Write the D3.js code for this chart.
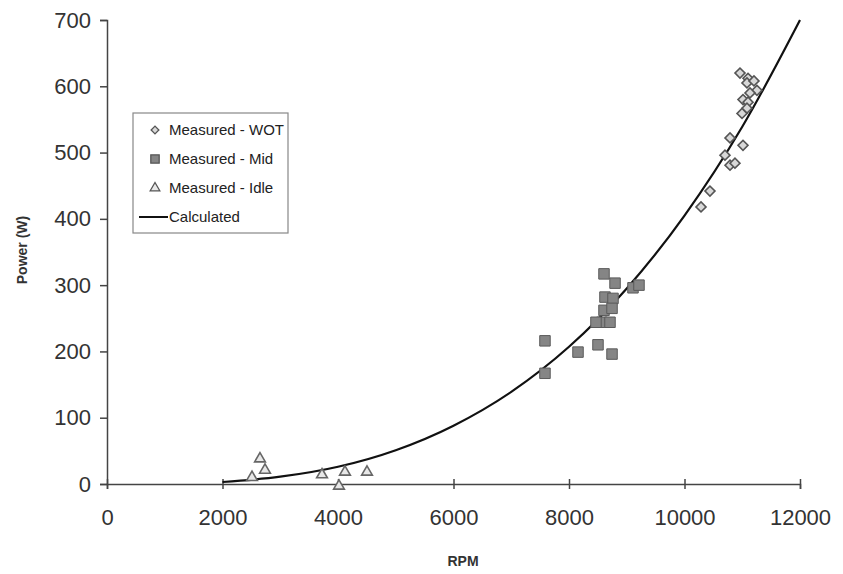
<!DOCTYPE html>
<html>
<head>
<meta charset="utf-8">
<script src="https://cdn.jsdelivr.net/npm/d3@7"></script>
<style>
  body { margin: 0; background: #fff; }
  svg { font-family: "Liberation Sans", Arial, sans-serif; }
</style>
</head>
<body>
<svg id="chart"></svg>
<script>
// values
const wotPoints = [
    [10961, 620], [11100, 612], [11082, 605], [11203, 608], [11255, 594],
    [11134, 590], [11013, 580], [11100, 576], [11082, 567], [10996, 559],
    [10788, 522], [11013, 511], [10701, 496], [10788, 481], [10874, 484],
    [10441, 442], [10286, 418]
];
const midPoints = [
    [7584, 216], [7584, 167], [8156, 199], [8502, 210], [8745, 196],
    [8606, 317], [8797, 303], [9108, 296], [9212, 300], [8623, 282],
    [8762, 280], [8606, 262], [8745, 265], [8571, 244], [8710, 244],
    [8467, 244]
];
const idlePoints = [
    [2649, 38], [2736, 21], [2511, 10], [3723, 14], [4121, 18],
    [4502, 18], [4017, -3]
];
const calcRpm = [2000, 3000, 4000, 5000, 6000, 7000, 8000, 9000, 10000, 11000, 12000];
const calcPower = [3, 11, 26, 51, 88, 139, 207, 295, 405, 539, 700];

const xTicks = [0, 2000, 4000, 6000, 8000, 10000, 12000];
const yTicks = [0, 100, 200, 300, 400, 500, 600, 700];
const legendLabels = ["Measured - WOT", "Measured - Mid", "Measured - Idle", "Calculated"];

const margin = {top: 20, right: 43, bottom: 90, left: 107};
const width = 843 - margin.left - margin.right;
const height = 574 - margin.top - margin.bottom;

const svg = d3.select("#chart")
    .attr("width", 843)
    .attr("height", 574);

const g = svg.append("g")
    .attr("transform", `translate(${margin.left},${margin.top})`);

const x = d3.scaleLinear().domain([0, 12000]).range([0, width]);
const y = d3.scaleLinear().domain([0, 700]).range([height, 0]);

// Y axis
const yAxis = g.append("g")
    .call(d3.axisLeft(y).tickValues(yTicks).tickSize(7).tickPadding(9));
yAxis.select(".domain").attr("stroke", "#444").attr("stroke-width", 1.5);
yAxis.selectAll(".tick line").attr("stroke", "#444").attr("stroke-width", 1.5);
yAxis.selectAll(".tick text").attr("font-size", 22).attr("fill", "#333")
    .attr("font-family", "Liberation Sans, Arial, sans-serif");

// X axis
const xAxis = g.append("g")
    .attr("transform", `translate(0,${height})`)
    .call(d3.axisBottom(x).tickValues(xTicks).tickFormat(d3.format("d")).tickSize(5).tickPadding(20));
xAxis.select(".domain").attr("stroke", "#444").attr("stroke-width", 1.5);
xAxis.selectAll(".tick line").attr("stroke", "#444").attr("stroke-width", 1.5).attr("y1", -5);
xAxis.selectAll(".tick text").attr("font-size", 22).attr("fill", "#333")
    .attr("font-family", "Liberation Sans, Arial, sans-serif");

// Axis titles
svg.append("text")
    .attr("x", 463).attr("y", 566)
    .attr("text-anchor", "middle")
    .attr("font-size", 14).attr("font-weight", "bold").attr("fill", "#333")
    .text("RPM");

svg.append("text")
    .attr("transform", "translate(27,250) rotate(-90)")
    .attr("text-anchor", "middle")
    .attr("font-size", 14).attr("font-weight", "bold").attr("fill", "#333")
    .text("Power (W)");

// Calculated curve
const calcData = calcRpm.map((r, i) => ({rpm: r, power: calcPower[i]}));
const line = d3.line()
    .x(d => x(d.rpm))
    .y(d => y(d.power))
    .curve(d3.curveMonotoneX);

g.append("path")
    .datum(calcData)
    .attr("d", line)
    .attr("fill", "none")
    .attr("stroke", "#111")
    .attr("stroke-width", 2.2);

// Markers (diamond = square turned 45 degrees)
const diamond = d3.symbol().type(d3.symbolSquare).size(50);
const square = d3.symbol().type(d3.symbolSquare).size(110);
const triangle = d3.symbol().type(d3.symbolTriangle).size(50);

g.append("g").selectAll("path")
    .data(wotPoints)
    .join("path")
    .attr("transform", d => `translate(${x(d[0])},${y(d[1])}) rotate(45)`)
    .attr("d", diamond)
    .attr("fill", "#d8d8d8")
    .attr("stroke", "#555")
    .attr("stroke-width", 1.6);

g.append("g").selectAll("path")
    .data(midPoints)
    .join("path")
    .attr("transform", d => `translate(${x(d[0])},${y(d[1])})`)
    .attr("d", square)
    .attr("fill", "#858585")
    .attr("stroke", "#5a5a5a")
    .attr("stroke-width", 1);

g.append("g").selectAll("path")
    .data(idlePoints)
    .join("path")
    .attr("transform", d => `translate(${x(d[0])},${y(d[1])})`)
    .attr("d", triangle)
    .attr("fill", "#e8e8e8")
    .attr("stroke", "#666")
    .attr("stroke-width", 1.6);

// Legend
const legend = svg.append("g").attr("transform", "translate(133,113)");
legend.append("rect")
    .attr("width", 155).attr("height", 120)
    .attr("fill", "#fff")
    .attr("stroke", "#888")
    .attr("stroke-width", 1.2);

const legendFills = ["#d8d8d8", "#858585", "#e8e8e8"];
const legendShapes = [
    d3.symbol().type(d3.symbolSquare).size(30),
    d3.symbol().type(d3.symbolSquare).size(70),
    d3.symbol().type(d3.symbolTriangle).size(40)
];
legendLabels.forEach((label, i) => {
    const ly = 17 + i * 29;
    if (i < 3) {
        legend.append("path")
            .attr("transform", `translate(22,${ly})` + (i === 0 ? " rotate(45)" : ""))
            .attr("d", legendShapes[i])
            .attr("fill", legendFills[i])
            .attr("stroke", "#555")
            .attr("stroke-width", 1.3);
    } else {
        legend.append("line")
            .attr("x1", 6).attr("x2", 35)
            .attr("y1", ly).attr("y2", ly)
            .attr("stroke", "#111").attr("stroke-width", 2);
    }
    legend.append("text")
        .attr("x", 36).attr("y", ly + 5)
        .attr("font-size", 15).attr("fill", "#222")
        .text(label);
});
</script>
</body>
</html>
